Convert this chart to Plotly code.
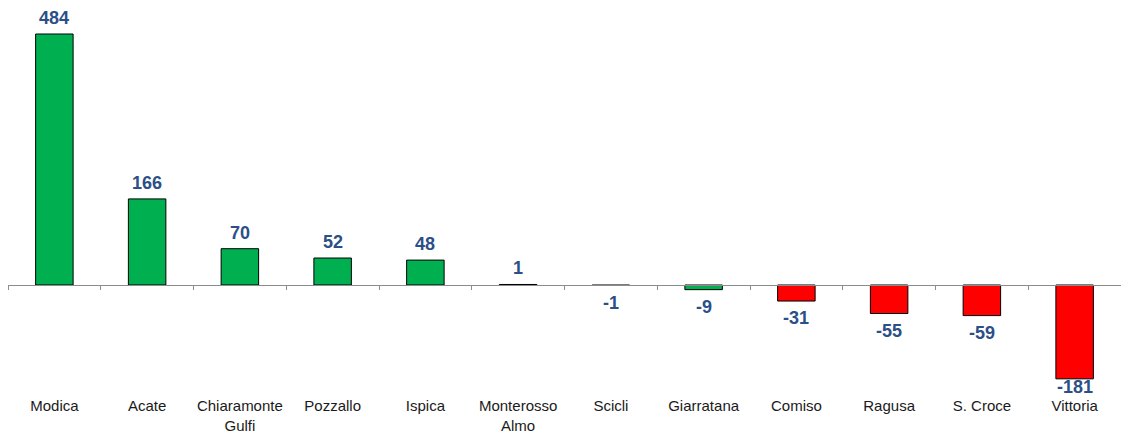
import plotly.graph_objects as go

categories = ["Modica", "Acate", "Chiaramonte<br>Gulfi", "Pozzallo", "Ispica",
              "Monterosso<br>Almo", "Scicli", "Giarratana", "Comiso", "Ragusa",
              "S. Croce", "Vittoria"]
values = [484, 166, 70, 52, 48, 1, -1, -9, -31, -55, -59, -181]

GREEN = "#00B050"
RED = "#FF0000"
bar_colors = [GREEN, GREEN, GREEN, GREEN, GREEN, GREEN, GREEN, GREEN, RED, RED, RED, RED]
# label vertical offsets (px), style only
label_shift_override = {"Vittoria": 4}

ymin, ymax = -208.3, 530.3
zero_pos = (0 - ymin) / (ymax - ymin)
FONT = "Arial, Liberation Sans, sans-serif"

fig = go.Figure()
fig.add_trace(go.Bar(
    x=categories, y=values,
    marker=dict(color=bar_colors, line=dict(color="#000000", width=1)),
    hoverinfo="skip", showlegend=False,
))
# invisible trace to hold the zero axis with boundary ticks
fig.add_trace(go.Scatter(x=[-0.5, 11.5], y=[0, 0], xaxis="x2", mode="lines",
                         line=dict(width=0), showlegend=False, hoverinfo="skip"))

for c, v in zip(categories, values):
    shift = label_shift_override.get(c, 4 if v >= 0 else -5)
    fig.add_annotation(
        x=c, y=v, text=f"<b>{v}</b>", showarrow=False,
        yanchor="bottom" if v >= 0 else "top",
        yshift=shift,
        font=dict(family=FONT, size=18, color="#2B4F86"),
    )

fig.update_layout(
    width=1121, height=433,
    margin=dict(l=8, r=0, t=10, b=40),
    paper_bgcolor="white", plot_bgcolor="white",
    bargap=0.596,
    font=dict(family=FONT, size=15, color="#1a1a1a"),
    xaxis=dict(type="category", showline=False, ticks="", showgrid=False,
               zeroline=False, automargin=False, ticklabelstandoff=2,
               tickfont=dict(family=FONT, size=15, color="#1a1a1a")),
    xaxis2=dict(overlaying="x", anchor="free", position=zero_pos, side="bottom",
                range=[-0.5, 11.5], tickvals=[i - 0.5 for i in range(13)],
                showticklabels=False, ticks="outside", ticklen=4, tickcolor="#8c8c8c",
                showline=True, linecolor="#8c8c8c", linewidth=1.3, showgrid=False,
                zeroline=False),
    yaxis=dict(range=[ymin, ymax], visible=False, showgrid=False, zeroline=False),
)

fig.write_html("out.html", config={"displayModeBar": False},
               post_script="document.body.style.margin='0';document.body.style.padding='0';")
